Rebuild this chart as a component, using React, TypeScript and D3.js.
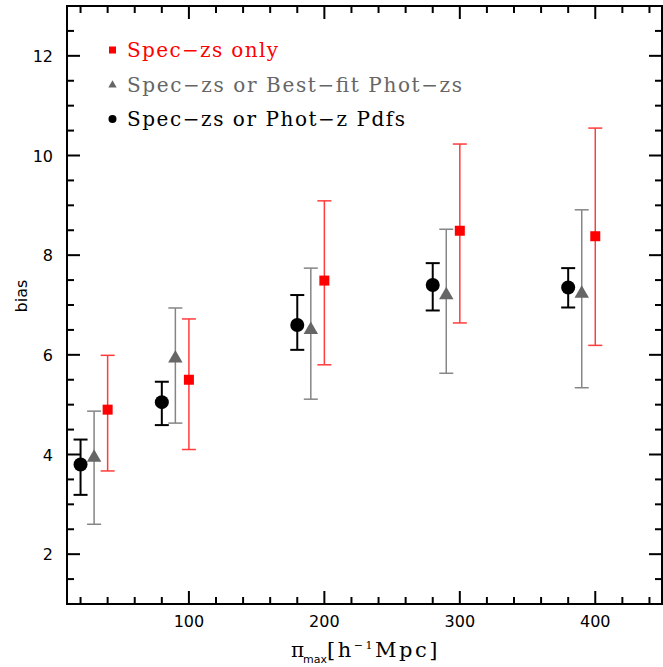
// Galaxy bias vs. pi_max: three estimators side by side, each with
// asymmetric error bars. Drawn as plain JSX on top of D3 scales.
import React from 'react';
import * as d3 from 'd3';

const W = 663;
const H = 667;
const LEFT = 67;
const RIGHT = 663;
const TOP = 6;
const BOTTOM = 604;

// Black circles: spec-zs or phot-z pdfs
const pdfX = [20, 80, 180, 280, 380];
const pdfY = [3.8, 5.05, 6.6, 7.4, 7.35];
const pdfLo = [3.19, 4.59, 6.1, 6.89, 6.95];
const pdfHi = [4.3, 5.46, 7.2, 7.84, 7.74];

// Grey triangles: spec-zs or best-fit phot-zs
const bestX = [30, 90, 190, 290, 390];
const bestY = [3.94, 5.93, 6.5, 7.2, 7.23];
const bestLo = [2.6, 4.63, 5.11, 5.63, 5.34];
const bestHi = [4.87, 6.94, 7.74, 8.52, 8.91];

// Red squares: spec-zs only
const specX = [40, 100, 200, 300, 400];
const specY = [4.9, 5.5, 7.49, 8.49, 8.38];
const specLo = [3.67, 4.1, 5.8, 6.64, 6.19];
const specHi = [5.99, 6.72, 9.09, 10.23, 10.55];

const xTicks = [100, 200, 300, 400];
const yTicks = [2, 4, 6, 8, 10, 12];

const legendLabels = ['Spec\u2212zs only', 'Spec\u2212zs or Best\u2212fit Phot\u2212zs', 'Spec\u2212zs or Phot\u2212z Pdfs'];

const x = d3.scaleLinear().domain([10, 450]).range([LEFT, RIGHT]);
const y = d3.scaleLinear().domain([1, 13]).range([BOTTOM, TOP]);

const xMinor = d3.range(20, 450, 20);
const yMinor = d3.range(1.5, 13, 0.5);

const tri = d3.symbol().type(d3.symbolTriangle);

type Series = {
  xs: number[];
  ys: number[];
  lo: number[];
  hi: number[];
  bar: string;
  width: number;
  cap: number;
};

const ErrorBars = ({ s }: { s: Series }) => (
  <g stroke={s.bar} strokeWidth={s.width} fill="none">
    {s.xs.map((xv, i) => {
      const cx = x(xv);
      return (
        <g key={i}>
          <line x1={cx} x2={cx} y1={y(s.lo[i])} y2={y(s.hi[i])} />
          <line x1={cx - s.cap} x2={cx + s.cap} y1={y(s.lo[i])} y2={y(s.lo[i])} />
          <line x1={cx - s.cap} x2={cx + s.cap} y1={y(s.hi[i])} y2={y(s.hi[i])} />
        </g>
      );
    })}
  </g>
);

export default function App() {
  const legendWidths = [151, 335, 278];
  const legendColors = ['#ff0000', '#666666', '#000000'];
  const legendY = [50, 85, 119];

  return (
    <svg width={W} height={H} style={{ display: 'block', position: 'absolute', left: 0, top: 0 }}>
      <rect width={W} height={H} fill="white" />

      {/* error bars first, markers on top */}
      <ErrorBars s={{ xs: specX, ys: specY, lo: specLo, hi: specHi, bar: '#ff3b3b', width: 1.5, cap: 7 }} />
      <ErrorBars s={{ xs: bestX, ys: bestY, lo: bestLo, hi: bestHi, bar: '#858585', width: 1.5, cap: 7 }} />
      <ErrorBars s={{ xs: pdfX, ys: pdfY, lo: pdfLo, hi: pdfHi, bar: '#000', width: 2, cap: 7 }} />

      {specX.map((xv, i) => (
        <rect key={'s' + i} x={x(xv) - 5} y={y(specY[i]) - 5} width={10} height={10} fill="#ff0000" />
      ))}
      {bestX.map((xv, i) => (
        <path
          key={'b' + i}
          d={tri.size(90)()!}
          transform={`translate(${x(xv)},${y(bestY[i])})`}
          fill="#666666"
        />
      ))}
      {pdfX.map((xv, i) => (
        <circle key={'p' + i} cx={x(xv)} cy={y(pdfY[i])} r={7} fill="#000" />
      ))}

      {/* frame and ticks */}
      <g stroke="#000" strokeWidth={2}>
        <rect x={LEFT} y={TOP} width={RIGHT - LEFT - 1} height={BOTTOM - TOP} fill="none" />
        {xMinor.map((v) => {
          const major = v % 100 === 0;
          const len = major ? 13 : 7;
          return (
            <g key={'xt' + v}>
              <line x1={x(v)} x2={x(v)} y1={BOTTOM} y2={BOTTOM - len} />
              <line x1={x(v)} x2={x(v)} y1={TOP} y2={TOP + len} />
            </g>
          );
        })}
        {yMinor.map((v) => {
          const major = Math.abs(v % 2) < 1e-9;
          const len = major ? 13 : 7;
          return (
            <g key={'yt' + v}>
              <line x1={LEFT} x2={LEFT + len} y1={y(v)} y2={y(v)} />
              <line x1={RIGHT - 1} x2={RIGHT - 1 - len} y1={y(v)} y2={y(v)} />
            </g>
          );
        })}
      </g>

      <g fontFamily="DejaVu Sans" fontSize={16} fill="#000">
        {xTicks.map((v) => (
          <text key={'xl' + v} x={x(v)} y={627} textAnchor="middle">
            {v}
          </text>
        ))}
        {yTicks.map((v) => (
          <text key={'yl' + v} x={53} y={y(v) + 6} textAnchor="end">
            {v}
          </text>
        ))}
        <text transform="translate(27,296) rotate(-90)" textAnchor="middle" fontSize={16}>
          bias
        </text>
      </g>

      <g fontFamily="DejaVu Serif" fill="#000">
        <text x={291} y={657} fontSize={20}>
          π
        </text>
        <text x={303} y={663} fontSize={11} fontFamily="DejaVu Sans">
          max
        </text>
        <text x={327} y={657} fontSize={21} letterSpacing={2.5}>
          [h
          <tspan dy={-8} fontSize={11}>
            −1
          </tspan>
          <tspan dy={8}>Mpc]</tspan>
        </text>
      </g>

      {/* legend */}
      <rect x={109} y={legendY[0] - 3.5} width={7} height={7} fill="#ff0000" />
      <path d={tri.size(30)()!} transform={`translate(112.5,${legendY[1]})`} fill="#666666" />
      <circle cx={112.5} cy={legendY[2]} r={4} fill="#000" />
      <g fontFamily="DejaVu Serif" fontSize={20}>
        {legendLabels.map((t, i) => (
          <text
            key={t}
            x={127}
            y={legendY[i] + 7}
            fill={legendColors[i]}
            textLength={legendWidths[i]}
            lengthAdjust="spacing"
          >
            {t}
          </text>
        ))}
      </g>
    </svg>
  );
}
